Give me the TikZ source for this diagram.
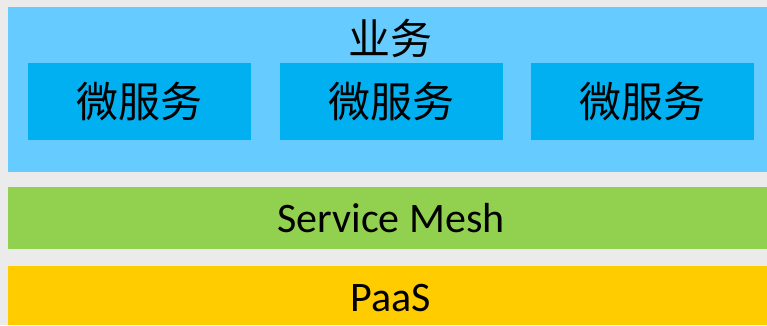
\documentclass[tikz,border=0pt]{standalone}
\usepackage{fontspec}
\setmainfont{Carlito}
\newfontfamily\cjk{Noto Sans CJK SC}
\definecolor{bggray}{HTML}{EBEBEB}
\definecolor{bizblue}{HTML}{66CCFF}
\definecolor{msblue}{HTML}{00B0F0}
\definecolor{meshgreen}{HTML}{92D050}
\definecolor{paasyellow}{HTML}{FFCC00}
\tikzset{
  layer/.style={fill=#1, draw=none},
  mslabel/.style={font=\cjk\fontsize{42}{42}\selectfont, anchor=center, inner sep=0pt},
  latlabel/.style={font=\fontsize{42}{42}\selectfont, anchor=center, inner sep=0pt},
}
\begin{document}
\begin{tikzpicture}[x=1pt,y=-1pt]
\useasboundingbox (0,0) rectangle (767,325);
\fill[bggray] (0,0) rectangle (767,325);
% business layer
\fill[layer=bizblue] (8,7) rectangle (767,172);
\node[mslabel] (biz) at (390,38) {业务};
% microservices
\fill[layer=msblue] (28,63) rectangle (251,140);
\fill[layer=msblue] (280,63) rectangle (503,140);
\fill[layer=msblue] (531,63) rectangle (754,140);
\node[mslabel] (ms1) at (139.5,102) {微服务};
\node[mslabel] (ms2) at (391.5,102) {微服务};
\node[mslabel] (ms3) at (642.5,102) {微服务};
% service mesh
\fill[layer=meshgreen] (8,187) rectangle (767,249);
\node[latlabel, anchor=base] (mesh) at (391,232) {Service Mesh};
% paas
\fill[layer=paasyellow] (8,266) rectangle (767,325);
\node[latlabel, anchor=base] (paas) at (391,311) {PaaS};
\end{tikzpicture}
\end{document}
